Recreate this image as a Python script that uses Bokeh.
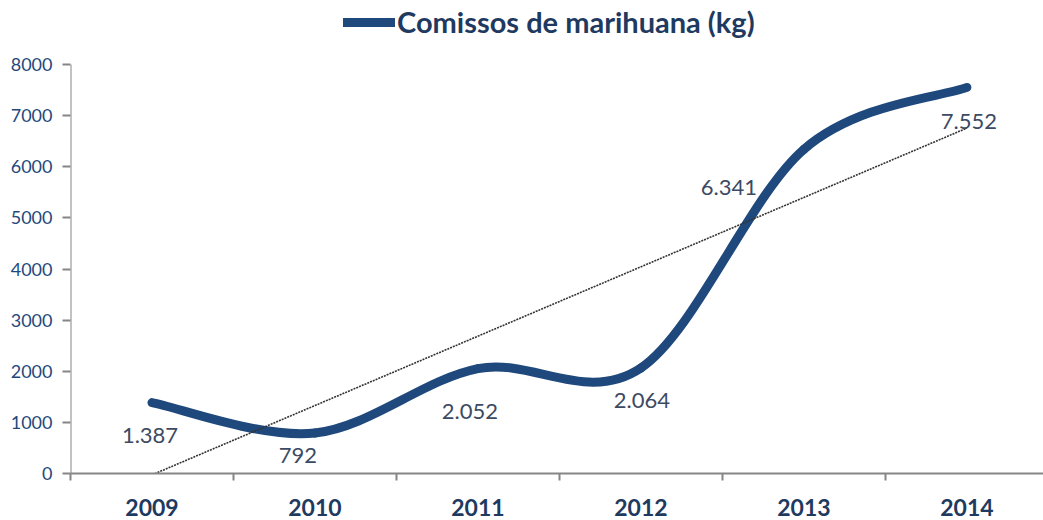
import numpy as np
from bokeh.plotting import figure
from bokeh.models import FixedTicker, Legend, LegendItem, Range1d
from bokeh.core.properties import value
from bokeh.embed import file_html
from bokeh.resources import INLINE

# ---- data ----
years = ["2009", "2010", "2011", "2012", "2013", "2014"]
seizures = [1387, 792, 2052, 2064, 6341, 7552]
value_labels = ["1.387", "792", "2.052", "2.064", "6.341", "7.552"]
y_ticks = [0, 1000, 2000, 3000, 4000, 5000, 6000, 7000, 8000]
series_name = "Comissos de marihuana (kg)"

# ---- layout constants (label offsets in screen px) ----
label_dx = [-2, -17, -8, 1, -75, 2]
label_dy = [33, 22, 43, 33, 38, 34]

FONT = "Lato"
LINE_COLOR = "#1F497D"
AXIS_COLOR = "#868686"

W, H = 1043, 520
BOTTOM = 47          # space below the plot frame
TOP_GAP = 64         # px between canvas top and the 8000 level
frame_h = H - BOTTOM
y_top = y_ticks[-1] * frame_h / (frame_h - TOP_GAP)

x = np.arange(len(years), dtype=float)
y = np.array(seizures, dtype=float)
n = len(x)
x_start = -0.5

p = figure(width=W, height=H, output_backend="svg", toolbar_location=None,
           x_range=Range1d(x_start, 5.47), y_range=Range1d(0, y_top),
           min_border_left=70, min_border_right=0, min_border_top=0,
           min_border_bottom=BOTTOM)
p.xgrid.visible = False
p.ygrid.visible = False
p.outline_line_color = None
p.background_fill_color = "white"

# y axis line only up to the top tick
p.segment(x0=[x_start], y0=[y_ticks[0]], x1=[x_start], y1=[y_ticks[-1]],
          line_color=AXIS_COLOR, line_width=2)

# smoothed line (Excel-like Catmull-Rom bezier) built from the data points
x0s, y0s, x1s, y1s, cx0s, cy0s, cx1s, cy1s = [], [], [], [], [], [], [], []
for i in range(n - 1):
    ip = max(i - 1, 0)
    i2 = min(i + 2, n - 1)
    x0s.append(x[i]); y0s.append(y[i])
    x1s.append(x[i + 1]); y1s.append(y[i + 1])
    cx0s.append(x[i] + (x[i + 1] - x[ip]) / 6.0)
    cy0s.append(y[i] + (y[i + 1] - y[ip]) / 6.0)
    cx1s.append(x[i + 1] - (x[i2] - x[i]) / 6.0)
    cy1s.append(y[i + 1] - (y[i2] - y[i]) / 6.0)
curve = p.bezier(x0=x0s, y0=y0s, x1=x1s, y1=y1s, cx0=cx0s, cy0=cy0s,
                 cx1=cx1s, cy1=cy1s,
                 line_color=LINE_COLOR, line_width=9, line_cap="round")

# linear trendline
coef = np.polyfit(x, y, 1)
tx = np.array([x[0], x[-1]])
p.line(tx, np.polyval(coef, tx), line_color="#333333", line_width=1.6,
       line_dash="2 1")

# data labels
p.text(x=x, y=y, text=value_labels, x_offset=label_dx, y_offset=label_dy,
       text_align="center", text_baseline="middle",
       text_font=value(FONT), text_font_size="22px", text_color="#3C4A63")

# legend (acts as title), placed at the top of the canvas
legend = Legend(items=[LegendItem(label=series_name, renderers=[curve], index=0)],
                location=(273, 434), orientation="horizontal",
                glyph_width=52, glyph_height=20, label_standoff=2,
                label_text_font=FONT, label_text_font_size="29px",
                label_text_font_style="bold", label_text_color="#1F3A60",
                border_line_color=None, background_fill_alpha=0,
                padding=0, margin=0, spacing=0)
p.add_layout(legend, "center")

# x axis
xa = p.xaxis[0]
xa.ticker = FixedTicker(ticks=list(x), minor_ticks=list(np.arange(x_start, n, 1.0)))
xa.major_label_overrides = {int(i): yr for i, yr in enumerate(years)}
xa.major_tick_line_color = None
xa.major_tick_out = 0
xa.major_tick_in = 0
xa.minor_tick_line_color = AXIS_COLOR
xa.minor_tick_line_width = 2
xa.minor_tick_out = 7
xa.minor_tick_in = 0
xa.axis_line_color = AXIS_COLOR
xa.axis_line_width = 2
xa.major_label_standoff = 18
xa.major_label_text_font = FONT
xa.major_label_text_font_size = "23px"
xa.major_label_text_font_style = "bold"
xa.major_label_text_color = "#1F3A60"

# y axis
ya = p.yaxis[0]
ya.ticker = FixedTicker(ticks=y_ticks)
ya.major_tick_out = 8
ya.major_tick_in = 0
ya.major_tick_line_color = AXIS_COLOR
ya.major_tick_line_width = 2
ya.minor_tick_line_color = None
ya.axis_line_color = None
ya.major_label_standoff = 10
ya.major_label_text_font = FONT
ya.major_label_text_font_size = "18px"
ya.major_label_text_color = "#1F497D"

open("out.html", "w").write(file_html(p, INLINE))
